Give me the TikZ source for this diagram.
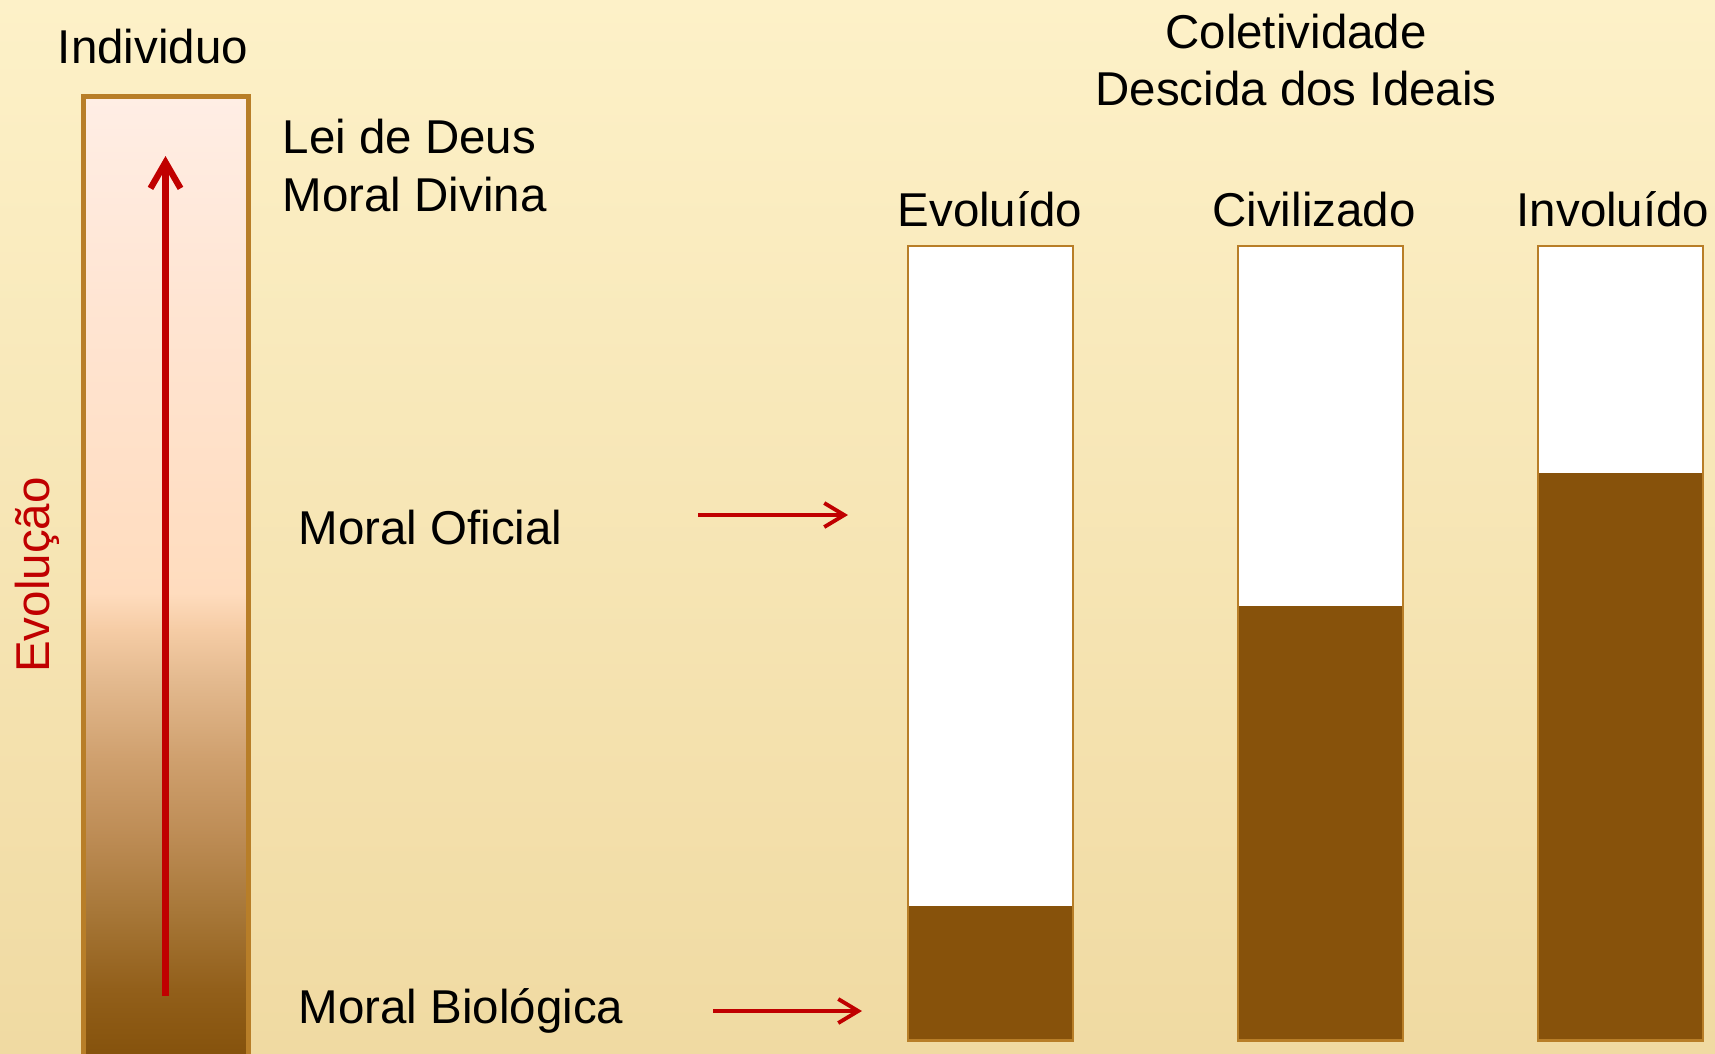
\documentclass[tikz,border=0pt]{standalone}
\usepackage{fontspec}
\setmainfont{Liberation Sans}
\usetikzlibrary{positioning,arrows.meta}

\definecolor{creamtop}{RGB}{253,241,200}
\definecolor{creambot}{RGB}{240,218,162}
\definecolor{moralbrown}{RGB}{135,82,11}
\definecolor{barrim}{RGB}{184,126,40}
\definecolor{evored}{RGB}{192,0,0}

% gradient of the left column, bottom (25bp) to top (75bp)
\pgfdeclareverticalshading{evolucao}{100bp}{
  rgb(0bp)=(0.514,0.314,0.039); rgb(25bp)=(0.514,0.314,0.039);
  rgb(28.97bp)=(0.573,0.373,0.102); rgb(32.95bp)=(0.655,0.467,0.220);
  rgb(36.87bp)=(0.741,0.549,0.333); rgb(40.84bp)=(0.812,0.627,0.431);
  rgb(44.81bp)=(0.890,0.725,0.557); rgb(47.5bp)=(0.961,0.800,0.647);
  rgb(49.4bp)=(1,0.863,0.745); rgb(64.5bp)=(1,0.898,0.827);
  rgb(75bp)=(1,0.933,0.898); rgb(100bp)=(1,0.933,0.898)}

\tikzset{
  every node/.style={font=\fontsize{13.5}{16}\selectfont, inner sep=0pt},
  colbar/.style={draw=barrim, line width=0.6pt, inner sep=0pt,
    minimum width=1.65cm, minimum height=7.94cm, anchor=north west},
  moralarrow/.style={evored, line width=1.1pt, -{Straight Barb[length=0.2cm,width=0.24cm]}},
  evoarrow/.style={evored, line width=1.8pt, -{Straight Barb[length=0.26cm,width=0.3cm]}}
}

\begin{document}
\begin{tikzpicture}[x=0.01cm, y=-0.01cm]
\useasboundingbox (0,0) rectangle (1715,1053);
\shade[top color=creamtop, bottom color=creambot] (0,0) rectangle (1715,1053);

% individuo
\node[draw=barrim, line width=1.4pt, shading=evolucao, minimum width=1.65cm,
  minimum height=9.69cm, anchor=north west] (indbar) at (81,94) {};
\node[anchor=base] (indiv) at (153,63) {Individuo};
\node[anchor=base, rotate=90, text=evored] (evo) at (50,575) {Evolução};
\coordinate (evoA) at (165.5,996);
\coordinate (evoB) at (165.5,156);
\draw[evoarrow] (evoA) -- (evoB);

\node[anchor=base west] (lei) at (282,153) {Lei de Deus};
\node[anchor=base west] (divina) at (282,211) {Moral Divina};
\node[anchor=base west] (oficial) at (298,544) {Moral Oficial};
\node[anchor=base west] (biolog) at (298,1023) {Moral Biológica};

\coordinate (oficA) at (698,515);
\coordinate (oficB) at (848,515);
\coordinate (biologA) at (713,1011);
\coordinate (biologB) at (862,1011);
\draw[moralarrow] (oficA) -- (oficB);
\draw[moralarrow] (biologA) -- (biologB);

% coletividade
\node[anchor=base] (colet) at (1296,48) {Coletividade};
\node[anchor=base] (descida) at (1296,105) {Descida dos Ideais};
\foreach \name/\x/\lvl/\lx/\txt in {evol/907/906/990/Evoluído, civ/1237/606/1314/Civilizado, inv/1537/473/1613/Involuído}{
  \fill[white] (\x,245) rectangle (\x+165,1039);
  \fill[moralbrown] (\x,\lvl) rectangle (\x+165,1039);
  \node[colbar] (\name) at (\x,245) {};
  \node[anchor=base] (\name-lbl) at (\lx,226) {\txt};
}
\end{tikzpicture}
\end{document}
